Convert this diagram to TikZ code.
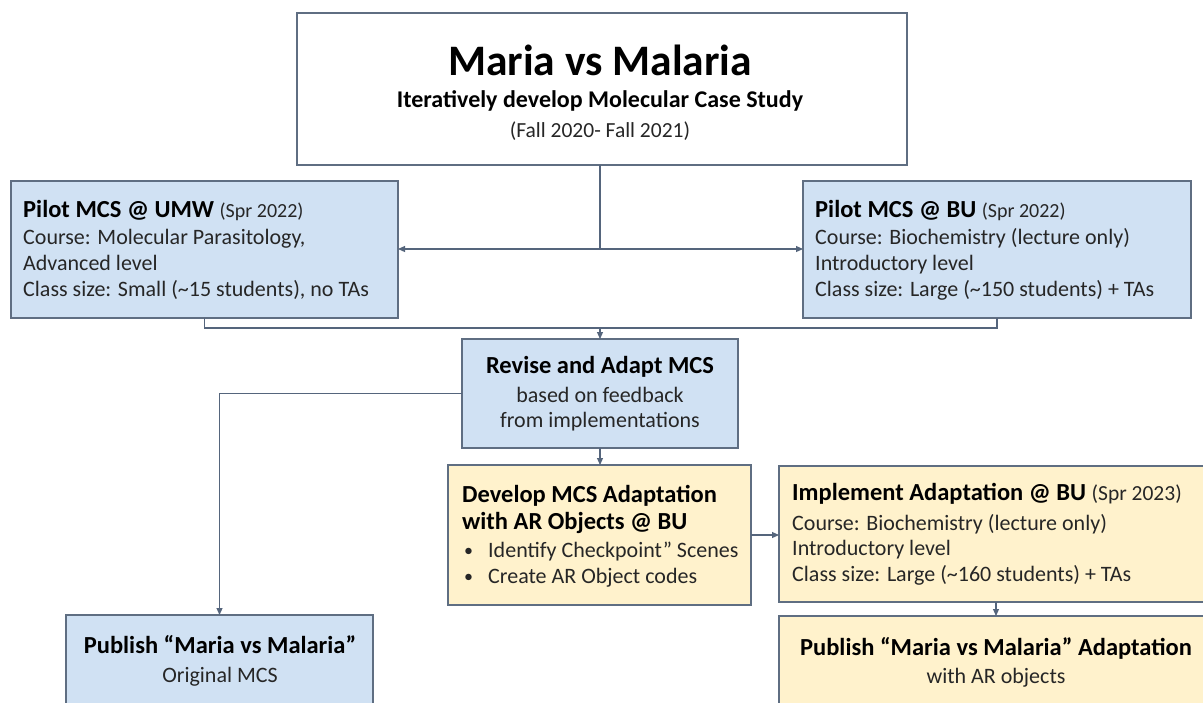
\documentclass[tikz,border=0pt]{standalone}
\usepackage{fontspec}
\setmainfont{Carlito}
\usetikzlibrary{arrows.meta}
\definecolor{bluefill}{HTML}{D0E1F3}
\definecolor{yelfill}{HTML}{FFF2CC}
\definecolor{edgecol}{HTML}{5F6E82}
\definecolor{conncol}{HTML}{55657C}
\definecolor{bodycol}{HTML}{262626}
\begin{document}
\begin{tikzpicture}[x=1pt,y=-1pt,
  box/.style={draw=edgecol, line width=1.2pt, inner sep=0pt, outer sep=0pt, anchor=north west},
  bluebox/.style={box, fill=bluefill},
  yelbox/.style={box, fill=yelfill},
  whitebox/.style={box, fill=white},
  hd/.style={inner sep=0pt, font=\fontsize{24.5}{28}\selectfont\bfseries, text=black},
  bd/.style={inner sep=0pt, font=\fontsize{22}{26}\selectfont, text=bodycol},
  conn/.style={draw=conncol, line width=1.1pt},
  arr/.style={conn, -{Triangle[length=7pt,width=6pt]}},
]
\useasboundingbox (0,0) rectangle (1203,702);
\begin{scope}
\clip (0,0) rectangle (1203,702);
\fill[white] (0,0) rectangle (1203,702);
% boxes
\node[whitebox, minimum width=610pt, minimum height=152pt] (top) at (297,13) {};
\node[bluebox, minimum width=387pt, minimum height=137pt] (umw) at (11,181) {};
\node[bluebox, minimum width=388pt, minimum height=137pt] (bu) at (803,181) {};
\node[bluebox, minimum width=276pt, minimum height=109pt] (rev) at (462,339) {};
\node[yelbox, minimum width=303pt, minimum height=140pt] (dev) at (448,465) {};
\node[yelbox, minimum width=434pt, minimum height=136pt] (imp) at (779,466) {};
\node[bluebox, minimum width=307pt, minimum height=110pt] (pubo) at (66,615) {};
\node[yelbox, minimum width=434pt, minimum height=110pt] (puba) at (779,616) {};
% connectors
\coordinate (j1) at (600,249);
\coordinate (j2) at (600,328);
\draw[conn] (top.south -| j1) -- (j1);
\draw[arr] (j1) -- (j1 -| umw.east);
\draw[arr] (j1) -- (j1 -| bu.west);
\draw[conn] (umw.south) |- (j2) -| (bu.south);
\draw[arr] (j2) -- (j2 |- rev.north);
\draw[arr] (rev.south) -- (rev.south |- dev.north);
\draw[arr] (rev.west) -| (pubo.north);
\draw[arr] (dev.east) -- (dev.east -| imp.west);
\draw[arr] (imp.south) -- (puba.north);
% top texts
\node[inner sep=0pt, anchor=base, font=\fontsize{43.5}{50}\selectfont\bfseries] (t1) at (600,75) {Maria vs Malaria};
\node[inner sep=0pt, anchor=base, font=\fontsize{24}{28}\selectfont\bfseries] (t2) at (600,107) {Iteratively develop Molecular Case Study};
\node[bd, font=\fontsize{21.5}{26}\selectfont, anchor=base] (t3) at (600,137) {(Fall 2020- Fall 2021)};
% UMW
\node[hd, anchor=base west] (u1) at (23,217) {Pilot MCS @ UMW {\mdseries\fontsize{20}{24}\selectfont\color{bodycol}(Spr 2022)}};
\node[bd, anchor=base west] (u2) at (23,244) {Course: Molecular Parasitology,};
\node[bd, anchor=base west] (u3) at (23,270) {Advanced level};
\node[bd, anchor=base west] (u4) at (23,296) {Class size: Small (\textasciitilde15 students), no TAs};
% BU
\node[hd, anchor=base west] (b1) at (815,217) {Pilot MCS @ BU {\mdseries\fontsize{20}{24}\selectfont\color{bodycol}(Spr 2022)}};
\node[bd, anchor=base west] (b2) at (815,244) {Course: Biochemistry (lecture only)};
\node[bd, anchor=base west] (b3) at (815,270) {Introductory level};
\node[bd, anchor=base west] (b4) at (815,296) {Class size: Large (\textasciitilde150 students) + TAs};
% Revise
\node[hd, anchor=base] (r1) at (600,373) {Revise and Adapt MCS};
\node[bd, anchor=base] (r2) at (600,402) {based on feedback};
\node[bd, anchor=base] (r3) at (600,427) {from implementations};
% Develop
\node[hd, anchor=base west] (d1) at (462,502) {Develop MCS Adaptation};
\node[hd, anchor=base west] (d2) at (462,529) {with AR Objects @ BU};
\node[bd, font=\fontsize{18}{22}\selectfont, anchor=base west] (d3b) at (464,556) {•};
\node[bd, anchor=base west] (d3) at (488,557) {Identify Checkpoint” Scenes};
\node[bd, font=\fontsize{18}{22}\selectfont, anchor=base west] (d4b) at (464,582) {•};
\node[bd, anchor=base west] (d4) at (488,583) {Create AR Object codes};
% Implement
\node[hd, anchor=base west] (i1) at (792,500) {Implement Adaptation @ BU {\mdseries\fontsize{21.5}{24}\selectfont\color{bodycol}(Spr 2023)}};
\node[bd, anchor=base west] (i2) at (792,530) {Course: Biochemistry (lecture only)};
\node[bd, anchor=base west] (i3) at (792,555) {Introductory level};
\node[bd, anchor=base west] (i4) at (792,581) {Class size: Large (\textasciitilde160 students) + TAs};
% Publish original
\node[hd, anchor=base] (p1) at (220,653) {Publish “Maria vs Malaria”};
\node[bd, anchor=base] (p2) at (220,682) {Original MCS};
% Publish adaptation
\node[hd, anchor=base] (q1) at (996,655) {Publish “Maria vs Malaria” Adaptation};
\node[bd, anchor=base] (q2) at (996,683) {with AR objects};
\end{scope}
\end{tikzpicture}
\end{document}
